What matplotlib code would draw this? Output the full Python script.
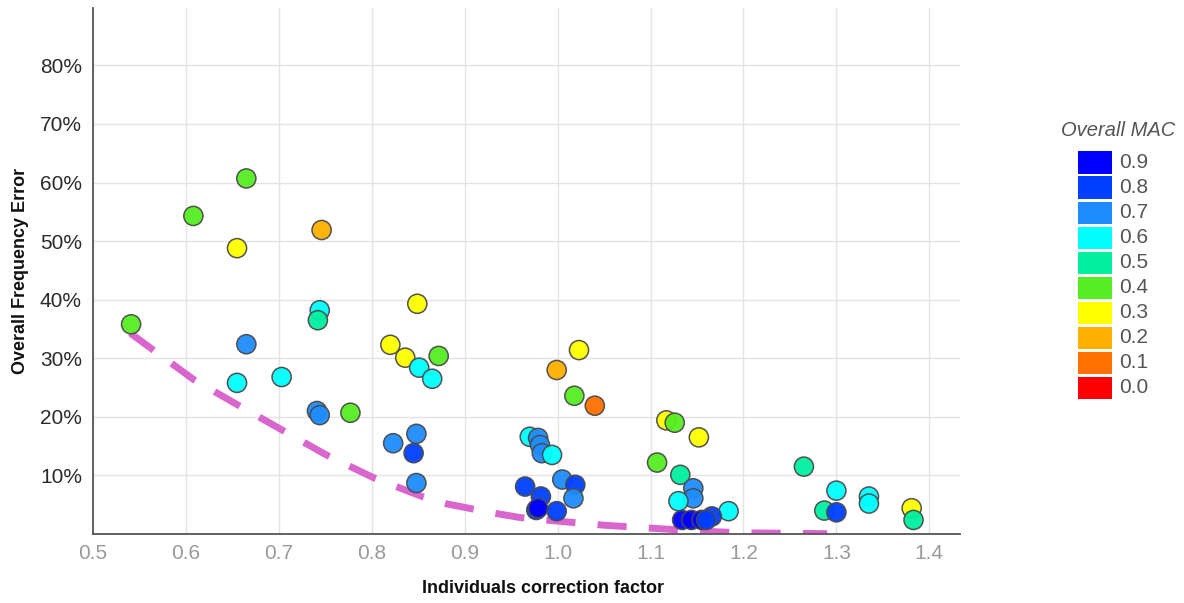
import matplotlib.pyplot as plt
from matplotlib.colors import ListedColormap, BoundaryNorm
from matplotlib.ticker import FuncFormatter

plt.rcParams['font.family'] = ['Liberation Sans', 'DejaVu Sans']

# Individuals correction factor, overall frequency error (%), overall MAC
corr_factor = [
    0.541, 0.608, 0.665, 0.655, 0.746, 0.849, 0.744, 0.742, 0.665, 0.655,
    0.703, 0.741, 0.744, 0.777, 0.820, 0.836, 0.872, 0.851, 0.865, 0.823,
    0.848, 0.845, 0.848,
    0.970, 0.979, 0.981, 0.983, 0.994, 0.965, 0.982, 0.977, 0.979, 0.999,
    1.005, 1.019, 1.017, 0.999, 1.023, 1.018, 1.040,
    1.117, 1.126, 1.152, 1.107, 1.132, 1.146, 1.146, 1.130, 1.184, 1.166,
    1.134, 1.144, 1.155, 1.160,
    1.265, 1.300, 1.287, 1.300, 1.335, 1.335, 1.381, 1.383,
]
freq_error = [
    35.8, 54.3, 60.7, 48.8, 51.9, 39.3, 38.2, 36.5, 32.4, 25.8,
    26.8, 21.0, 20.3, 20.7, 32.3, 30.1, 30.4, 28.4, 26.5, 15.5,
    17.1, 13.8, 8.7,
    16.6, 16.4, 15.2, 13.8, 13.5, 8.1, 6.4, 4.1, 4.4, 3.9,
    9.3, 8.4, 6.1, 28.0, 31.4, 23.6, 21.9,
    19.4, 19.0, 16.5, 12.2, 10.1, 7.8, 6.1, 5.6, 3.9, 3.0,
    2.4, 2.4, 2.4, 2.4,
    11.5, 7.4, 4.0, 3.7, 6.4, 5.2, 4.4, 2.4,
]
mac = [
    0.4, 0.4, 0.4, 0.3, 0.2, 0.3, 0.6, 0.5, 0.7, 0.6,
    0.6, 0.7, 0.7, 0.4, 0.3, 0.3, 0.4, 0.6, 0.6, 0.7,
    0.7, 0.8, 0.7,
    0.6, 0.7, 0.7, 0.7, 0.6, 0.8, 0.8, 0.8, 0.9, 0.8,
    0.7, 0.8, 0.7, 0.2, 0.3, 0.4, 0.1,
    0.3, 0.4, 0.3, 0.4, 0.5, 0.7, 0.7, 0.6, 0.6, 0.8,
    0.9, 0.9, 0.9, 0.8,
    0.5, 0.6, 0.5, 0.8, 0.6, 0.6, 0.3, 0.5,
]

# lower envelope (dashed)
trend_x = [0.540, 0.608, 0.655, 0.703, 0.751, 0.802, 0.854, 0.879, 0.930,
           0.960, 1.000, 1.050, 1.100, 1.150, 1.200, 1.290]
trend_y = [34.3, 26.4, 22.1, 17.8, 13.5, 9.6, 6.4, 5.2, 3.6,
           2.8, 2.2, 1.5, 1.0, 0.5, 0.2, 0.05]

mac_levels = [0.0, 0.1, 0.2, 0.3, 0.4, 0.5, 0.6, 0.7, 0.8, 0.9]
mac_colors = ['#ff0000', '#ff7000', '#ffb000', '#ffff00', '#55ee22',
              '#00f0a0', '#00ffff', '#1e8cff', '#0040ff', '#0000ff']

cmap = ListedColormap(mac_colors)
norm = BoundaryNorm([v - 0.05 for v in mac_levels] + [0.95], cmap.N)

fig = plt.figure(figsize=(11.84, 6.03), dpi=100)
ax = fig.add_axes([93 / 1184, 69 / 603, 867 / 1184, 526 / 603])

ax.plot(trend_x, trend_y, color='#d966cc', lw=5, dashes=(4.2, 3.2), zorder=2)
ax.scatter(corr_factor, freq_error, c=mac, cmap=cmap, norm=norm, s=190,
           edgecolors='#4a4a4a', linewidths=1.1, alpha=0.95, zorder=3)

ax.set_xlim(0.5, 1.433)
ax.set_ylim(0, 89.8)
ax.set_xticks([0.5, 0.6, 0.7, 0.8, 0.9, 1.0, 1.1, 1.2, 1.3, 1.4])
ax.set_yticks([10, 20, 30, 40, 50, 60, 70, 80])
ax.yaxis.set_major_formatter(FuncFormatter(lambda v, p: '{:d}%'.format(int(v))))
ax.tick_params(axis='x', length=0, pad=7, labelsize=15, labelcolor='#9a9a9a')
ax.tick_params(axis='y', length=0, pad=8, labelsize=15, labelcolor='#2a2a2a')
ax.grid(True, color='#e3e3e3', lw=1)
ax.set_axisbelow(True)
for s in ['top', 'right']:
    ax.spines[s].set_visible(False)
for s in ['left', 'bottom']:
    ax.spines[s].set_color('#555555')
    ax.spines[s].set_linewidth(1.3)

ax.set_xlabel('Individuals correction factor', fontsize=13, fontweight='bold',
              color='#111111')
ax.xaxis.set_label_coords(0.519, -0.088)
ax.set_ylabel('Overall Frequency Error', fontsize=13, fontweight='bold',
              color='#111111', labelpad=8)

# legend made of colour boxes
lax = fig.add_axes([1078 / 1184, (603 - 400) / 603, 34 / 1184, 250 / 603])
lax.set_xlim(0, 1)
lax.set_ylim(0, 10)
lax.axis('off')
for i, (lev, col) in enumerate(zip(mac_levels, mac_colors)):
    lax.bar(0.5, 0.88, width=1.0, bottom=i + 0.06, color=col)
    lax.text(1.2, i + 0.5, '{:.1f}'.format(lev), va='center', ha='left',
             fontsize=15, color='#555555', clip_on=False)
fig.text(1118 / 1184, 1 - 131 / 603, 'Overall MAC', ha='center', va='center',
         fontsize=14.5, style='italic', color='#555555')

plt.savefig('out.png', dpi=100)
